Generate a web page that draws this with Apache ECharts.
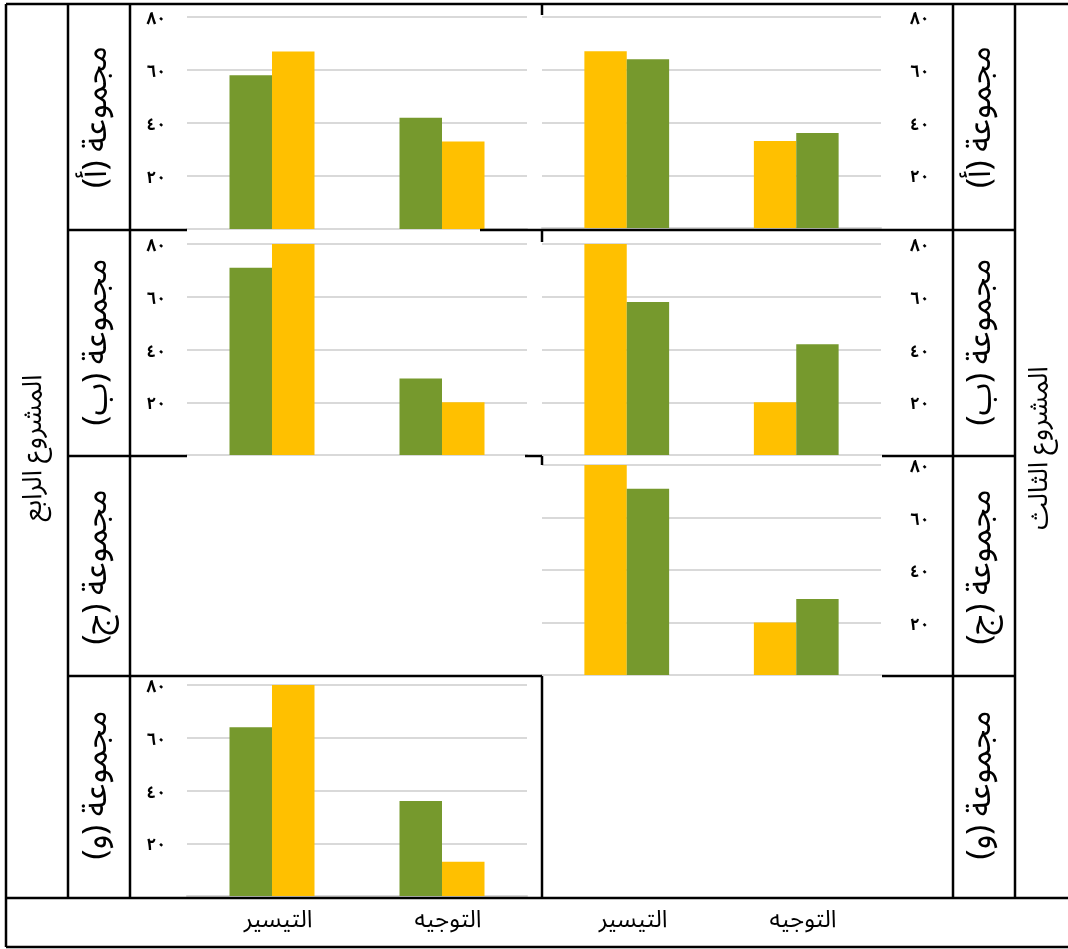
<!DOCTYPE html>
<html lang="ar">
<head>
<meta charset="utf-8">
<title>المشروع الرابع والمشروع الثالث</title>
<script src="https://cdn.jsdelivr.net/npm/echarts@6/dist/echarts.min.js"></script>
<style>
  html, body { margin: 0; padding: 0; background: #ffffff; }
  #chart { width: 1068px; height: 949px; }
</style>
</head>
<body>
<div id="chart"></div>
<script>
// ---- data ----
const categories = ['التيسير', 'التوجيه'];
const yMin = 0;
const yMax = 80;
const yStep = 20;

// المشروع الرابع (left column)
const p4A_green = [58, 42];
const p4A_yellow = [67, 33];
const p4B_green = [71, 29];
const p4B_yellow = [80, 20];
const p4W_green = [64, 36];
const p4W_yellow = [80, 13];

// المشروع الثالث (right column)
const p3A_yellow = [67, 33];
const p3A_green = [64, 36];
const p3B_yellow = [80, 20];
const p3B_green = [58, 42];
const p3J_yellow = [80, 20];
const p3J_green = [71, 29];

const groupLabels = ['مجموعة (أ)', 'مجموعة (ب)', 'مجموعة (ج)', 'مجموعة (و)'];
const projectLabels = ['المشروع الرابع', 'المشروع الثالث'];

// ---- styling ----
const GREEN = '#76992d';
const YELLOW = '#ffc000';
const GRID_GRAY = '#d9d9d9';
const FONT = "'Noto Sans Arabic', 'DejaVu Sans', Arial, sans-serif";
const ARABIC_DIGITS = '٠١٢٣٤٥٦٧٨٩';
const toArabicDigits = v => String(v).replace(/\d/g, d => ARABIC_DIGITS[+d]);

// chart panels: plot box + bar series in drawing order
const panels = [
  { box: { left: 187, top: 17, width: 340, height: 212 }, side: 'left',
    bars: [[p4A_green, GREEN], [p4A_yellow, YELLOW]] },
  { box: { left: 542, top: 17, width: 339, height: 211 }, side: 'right',
    bars: [[p3A_yellow, YELLOW], [p3A_green, GREEN]] },
  { box: { left: 187, top: 244, width: 340, height: 211 }, side: 'left',
    bars: [[p4B_green, GREEN], [p4B_yellow, YELLOW]] },
  { box: { left: 542, top: 244, width: 339, height: 211 }, side: 'right',
    bars: [[p3B_yellow, YELLOW], [p3B_green, GREEN]] },
  { box: { left: 542, top: 465, width: 339, height: 210 }, side: 'right',
    bars: [[p3J_yellow, YELLOW], [p3J_green, GREEN]] },
  { box: { left: 187, top: 685, width: 340, height: 211 }, side: 'left',
    bars: [[p4W_green, GREEN], [p4W_yellow, YELLOW]] }
];

const grid = [];
const xAxis = [];
const yAxis = [];
const series = [];

panels.forEach((p, i) => {
  grid.push(Object.assign({ containLabel: false }, p.box));
  xAxis.push({
    type: 'category', gridIndex: i, data: categories,
    axisLine: { show: true, lineStyle: { color: GRID_GRAY, width: 2 } },
    axisTick: { show: false }, axisLabel: { show: false }
  });
  yAxis.push({
    type: 'value', gridIndex: i, min: yMin, max: yMax, interval: yStep,
    position: p.side,
    axisLine: { show: false }, axisTick: { show: false },
    splitLine: { lineStyle: { color: GRID_GRAY, width: 2 } },
    axisLabel: {
      margin: p.side === 'left' ? 21 : 29,
      align: p.side === 'left' ? 'right' : 'left',
      color: '#000',
      formatter: v => (v === 0 ? '' : '{t|' + toArabicDigits(v) + '}'),
      rich: {
        t: { fontFamily: FONT, fontSize: 17, fontWeight: 'bold', color: '#000',
          padding: [9, 0, 0, 0] }
      }
    }
  });
  p.bars.forEach(([values, color]) => {
    series.push({
      type: 'bar', xAxisIndex: i, yAxisIndex: i, data: values,
      barGap: '0%', barCategoryGap: '50%',
      itemStyle: { color: color },
      silent: true
    });
  });
});

// category names along the bottom row of the table
[{ left: 193 }, { left: 548 }].forEach(pos => {
  const gi = grid.length;
  grid.push({ left: pos.left, top: 880, width: 340, height: 18, containLabel: false });
  xAxis.push({
    type: 'category', gridIndex: gi, data: categories,
    axisLine: { show: false }, axisTick: { show: false },
    axisLabel: { margin: 13, fontFamily: FONT, fontSize: 24, color: '#000' }
  });
  yAxis.push({ type: 'value', gridIndex: gi, show: false, min: yMin, max: yMax,
    splitLine: { show: false } });
});

// table rules
const hLines = [
  [4, 6, 1068],
  [230, 68, 187], [230, 480, 1015],
  [456, 68, 187], [456, 525, 542], [456, 882, 1015],
  [676, 68, 542], [676, 882, 1015],
  [898, 6, 1068],
  [947, 6, 1068]
];
const vLines = [
  [6, 4, 947],
  [68, 4, 898],
  [130, 4, 898],
  [542, 4, 15], [542, 230, 242], [542, 456, 465], [542, 676, 898],
  [953, 4, 898],
  [1015, 4, 898]
];
const graphic = [];
hLines.forEach(([y, x1, x2]) => graphic.push({
  type: 'line', shape: { x1: x1, y1: y, x2: x2, y2: y },
  style: { stroke: '#000', lineWidth: 2.5 }, silent: true, z: 50
}));
vLines.forEach(([x, y1, y2]) => graphic.push({
  type: 'line', shape: { x1: x, y1: y1, x2: x, y2: y2 },
  style: { stroke: '#000', lineWidth: 2.5 }, silent: true, z: 50
}));

// rotated row headers (group names) on both sides
const rowCenters = [117, 342, 567, 785];
rowCenters.forEach((cy, r) => {
  [101, 985].forEach(cx => graphic.push({
    type: 'text', x: cx, y: cy, rotation: Math.PI / 2, silent: true, z: 60,
    style: { text: groupLabels[r], fontFamily: FONT, fontSize: 33, fill: '#000',
      align: 'center', verticalAlign: 'middle' }
  }));
});

// project names in the outer columns
[[37, 448, projectLabels[0]], [1043, 448, projectLabels[1]]].forEach(([cx, cy, t]) =>
  graphic.push({
    type: 'text', x: cx, y: cy, rotation: Math.PI / 2, silent: true, z: 60,
    style: { text: t, fontFamily: FONT, fontSize: 27, fill: '#000',
      align: 'center', verticalAlign: 'middle' }
  })
);

const chart = echarts.init(document.getElementById('chart'), null, { renderer: 'canvas' });
chart.setOption({
  backgroundColor: '#ffffff',
  animation: false,
  grid: grid,
  xAxis: xAxis,
  yAxis: yAxis,
  series: series,
  graphic: graphic
});
</script>
</body>
</html>
